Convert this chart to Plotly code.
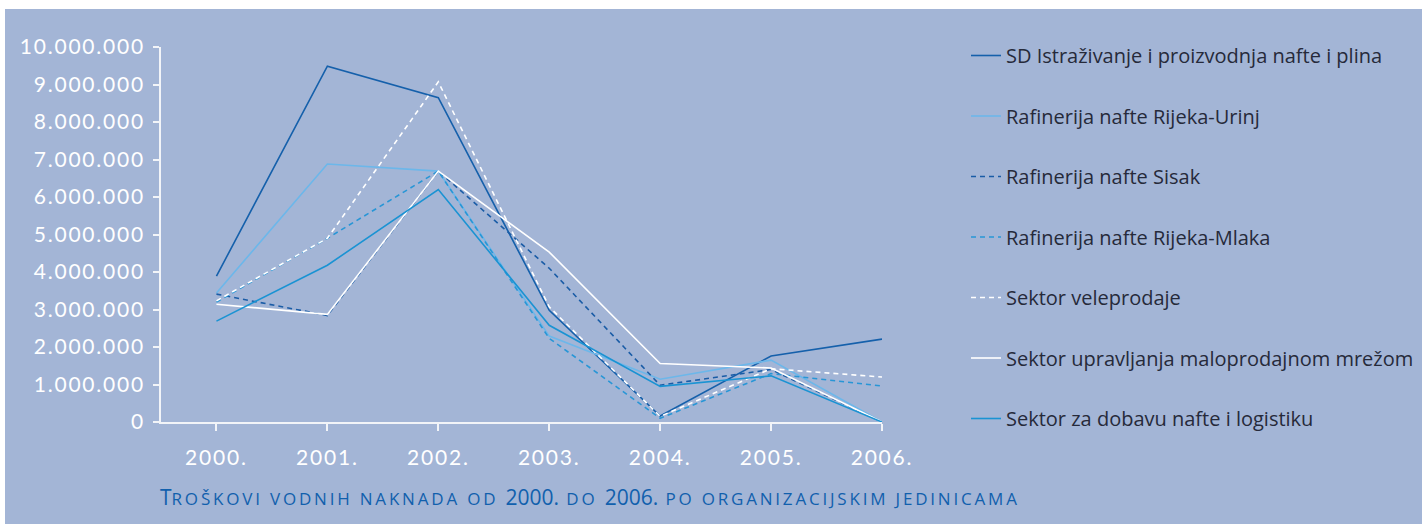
import plotly.graph_objects as go

years = ["2000.", "2001.", "2002.", "2003.", "2004.", "2005.", "2006."]

sd_istrazivanje = [3890000, 9490000, 8650000, 2980000, 160000, 1760000, 2210000]
rijeka_urinj = [3440000, 6880000, 6690000, 2290000, 1140000, 1650000, 0]
sisak = [3410000, 2840000, 6690000, 4100000, 980000, 1400000, 0]
rijeka_mlaka = [3200000, 4900000, 6690000, 2230000, 100000, 1290000, 960000]
veleprodaja = [3230000, 4900000, 9070000, 3070000, 150000, 1420000, 1200000]
maloprodaja = [3140000, 2870000, 6690000, 4530000, 1560000, 1440000, 0]
dobava = [2690000, 4180000, 6200000, 2580000, 950000, 1230000, 0]

series = [
    ("SD Istraživanje i proizvodnja nafte i plina", sd_istrazivanje, "#1560ab", "solid"),
    ("Rafinerija nafte Rijeka-Urinj", rijeka_urinj, "#6cb7ea", "solid"),
    ("Rafinerija nafte Sisak", sisak, "#1a5ca6", "5px,4px"),
    ("Rafinerija nafte Rijeka-Mlaka", rijeka_mlaka, "#2896d6", "5px,4px"),
    ("Sektor veleprodaje", veleprodaja, "#ffffff", "5px,4px"),
    ("Sektor upravljanja maloprodajnom mrežom", maloprodaja, "#ffffff", "solid"),
    ("Sektor za dobavu nafte i logistiku", dobava, "#1a93d3", "solid"),
]

y_ticks = list(range(0, 10000001, 1000000))
y_labels = ["0"] + [f"{v:,}".replace(",", ".") for v in y_ticks[1:]]

W, H = 1422, 524
L, R, T, B = 161, 540, 47, 102
pw, ph = W - L - R, H - T - B


def spaced(s, ls="1.8px"):
    return f"<span style='letter-spacing:{ls}'>{s}</span>"


fig = go.Figure()
for i, (name, vals, colour, dash) in enumerate(series):
    fig.add_trace(go.Scatter(
        x=years, y=vals, name=name, mode="lines",
        line=dict(color=colour, width=1.6, dash=dash),
        legendgroup=f"g{i}",
    ))

bg = "#a3b5d6"
# blue panel; a thin white strip stays along the top and left edge
fig.add_shape(type="rect", xref="paper", yref="paper", layer="below",
              x0=(5 - L) / pw, x1=(W - L) / pw, y0=1 - (H - T) / ph, y1=1 + (T - 9) / ph,
              fillcolor=bg, line_width=0)

sc = "font-size:17px;letter-spacing:2.8px"
title = (f"T<span style='{sc}'>ROŠKOVI VODNIH NAKNADA OD </span>2000."
         f"<span style='{sc}'> DO </span>2006."
         f"<span style='{sc}'> PO ORGANIZACIJSKIM JEDINICAMA</span>")
fig.add_annotation(text=title, xref="paper", yref="paper", x=(158 - L) / pw, y=1 - (497 - T) / ph,
                   xanchor="left", yanchor="middle", showarrow=False,
                   font=dict(family="Open Sans", size=21, color="#1160ad"))

fig.update_xaxes(
    type="category", range=[-0.5, 6], showgrid=False, zeroline=False,
    showline=True, linecolor="#f2f4f8", linewidth=1.5,
    ticks="outside", ticklen=7, tickcolor="#f2f4f8", tickwidth=1.5,
    tickvals=years, ticktext=[spaced(y) for y in years],
    ticklabelstandoff=9, automargin=False,
    tickfont=dict(family="Lato", size=21, color="#ffffff"),
)
fig.update_yaxes(
    range=[0, 10000000], showgrid=False, zeroline=False,
    showline=True, linecolor="#f2f4f8", linewidth=1.5,
    ticks="outside", ticklen=6, tickcolor="#f2f4f8", tickwidth=1.5,
    tickvals=y_ticks, ticktext=[spaced(t) for t in y_labels], ticklabelstandoff=4,
    automargin=False,
    tickfont=dict(family="Lato", size=21, color="#ffffff"),
)
fig.update_layout(
    width=W, height=H,
    margin=dict(l=L, r=R, t=T, b=B, autoexpand=False),
    paper_bgcolor="#ffffff", plot_bgcolor=bg,
    showlegend=True,
    legend=dict(x=(966 - L) / pw, y=1 + (T - 36) / ph, xanchor="left", yanchor="top",
                maxheight=520, bgcolor="rgba(0,0,0,0)", tracegroupgap=31.5, itemwidth=30,
                font=dict(family="Open Sans", size=20, color="#262a3a")),
)
fig.write_html("out.html", config={"displayModeBar": False},
               post_script="document.body.style.margin='0';")
